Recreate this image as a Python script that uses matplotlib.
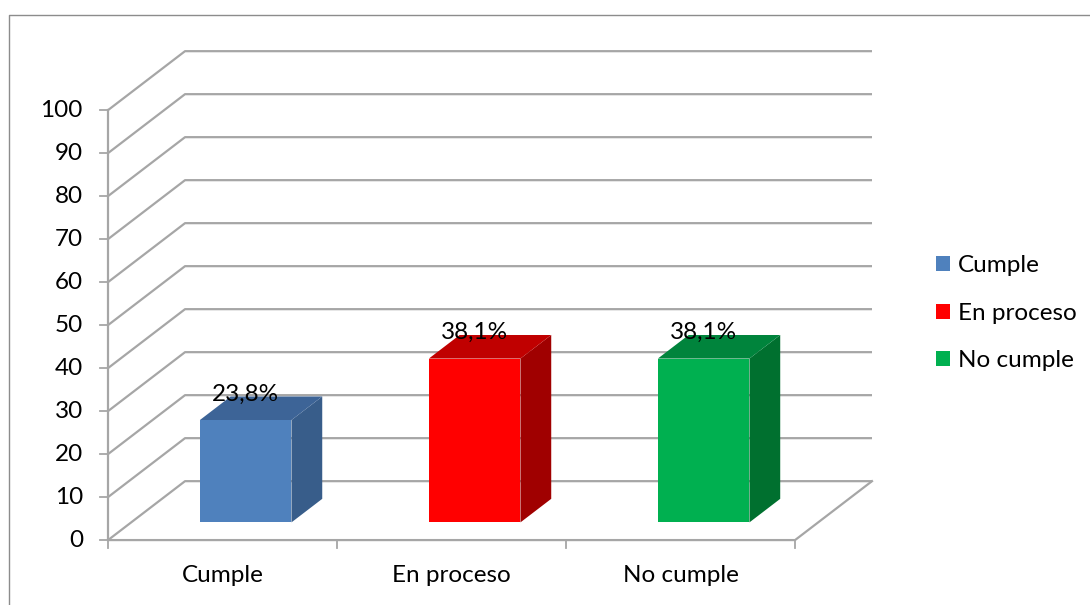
import matplotlib.pyplot as plt
from matplotlib.patches import Polygon, Patch

categories = ['Cumple', 'En proceso', 'No cumple']
values = [23.8, 38.1, 38.1]
value_labels = ['23,8%', '38,1%', '38,1%']
y_ticks = [0, 10, 20, 30, 40, 50, 60, 70, 80, 90, 100]

front_colors = ['#4f81bd', '#ff0000', '#00b050']
top_colors = ['#3d6497', '#c00000', '#00843c']
side_colors = ['#385d8a', '#a00000', '#00702f']

plt.rcParams['font.family'] = ['Lato', 'DejaVu Sans']

# oblique projection: depth z (0..1) shifts x by DX categories and y by DY units
DX = 0.336
DY = 13.7
grid_color = '#a6a6a6'
fs = 17.5
n = len(categories)


def proj(c, z, v):
    return c + z * DX, v + z * DY


fig = plt.figure(figsize=(10.9, 6.05), dpi=100)
ax = fig.add_axes([0, 0, 1, 1])
ax.set_xlim(-0.472, 4.288)
ax.set_ylim(-15.1, 125.6)
ax.axis('off')

# outer chart border
ax.plot([-0.432, -0.432, 4.288], [-15.1, 122.1, 122.1], color='#8c8c8c', lw=1.0)

# side wall and back wall gridlines
for v in y_ticks:
    pts = [proj(0, 0, v), proj(0, 1, v), proj(n, 1, v)]
    ax.plot([p[0] for p in pts], [p[1] for p in pts], color=grid_color, lw=1.6,
            solid_capstyle='butt', zorder=1)

# floor outline
floor = [proj(0, 0, 0), proj(n, 0, 0), proj(n, 1, 0)]
ax.plot([p[0] for p in floor], [p[1] for p in floor], color=grid_color, lw=1.6, zorder=1)

# value axis with ticks and labels
ax.plot([0, 0], [0, 100], color=grid_color, lw=1.6, zorder=2)
for v in y_ticks:
    ax.plot([-0.035, 0], [v, v], color=grid_color, lw=1.3, zorder=2)
    ax.text(-0.11, v, str(v), ha='right', va='center', fontsize=fs)

# category ticks and labels
for i in range(n + 1):
    ax.plot([i, i], [0, -1.9], color=grid_color, lw=1.3, zorder=2)
for i, name in enumerate(categories):
    ax.text(i + 0.5, -8.2, name, ha='center', va='center', fontsize=fs)

# 3d bars
w = 0.2
z0, z1 = 0.3, 0.7
for i, v in enumerate(values):
    c = i + 0.5
    front = [proj(c - w, z0, 0), proj(c + w, z0, 0), proj(c + w, z0, v), proj(c - w, z0, v)]
    side = [proj(c + w, z0, 0), proj(c + w, z1, 0), proj(c + w, z1, v), proj(c + w, z0, v)]
    top = [proj(c - w, z0, v), proj(c + w, z0, v), proj(c + w, z1, v), proj(c - w, z1, v)]
    ax.add_patch(Polygon(side, closed=True, fc=side_colors[i], ec='none', zorder=3))
    ax.add_patch(Polygon(top, closed=True, fc=top_colors[i], ec='none', zorder=3))
    ax.add_patch(Polygon(front, closed=True, fc=front_colors[i], ec='none', zorder=4))
    lx, ly = proj(c, z0, v)
    ax.annotate(value_labels[i], (lx, ly), xytext=(0, 11), textcoords='offset points',
                ha='center', va='bottom', fontsize=fs, zorder=5)

handles = [Patch(facecolor=col, edgecolor='none') for col in front_colors]
fig.legend(handles, categories, loc='upper left', bbox_to_anchor=(0.8587, 0.5785),
           frameon=False, fontsize=fs, handlelength=0.58, handleheight=0.58,
           handletextpad=0.33, labelspacing=1.1, borderpad=0, borderaxespad=0)

fig.savefig('out.png', dpi=100)
